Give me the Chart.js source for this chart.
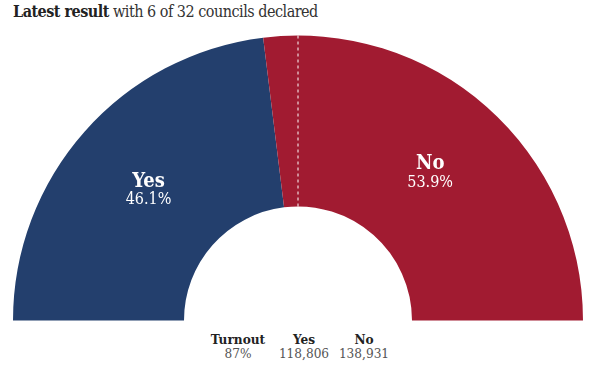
<!DOCTYPE html>
<html>
<head>
<meta charset="utf-8">
<script src="https://cdn.jsdelivr.net/npm/chart.js@4"></script>
<style>
  body { margin:0; background:#fff; width:600px; height:389px; overflow:hidden; font-family:"DejaVu Serif Condensed", "DejaVu Serif", serif; color:#333; }
  #title { position:absolute; left:13px; top:2px; font-size:16px; color:#333; white-space:nowrap; letter-spacing:-0.5px; }
  #title b { color:#222; }
  #wrap { position:absolute; left:13px; top:35px; width:570px; height:286px; }
  .stat { position:absolute; top:332px; text-align:center; font-size:13.5px; line-height:14px; color:#555; }
  .stat b { display:block; color:#222; font-size:13.5px; }
</style>
</head>
<body>
<div id="title"><b>Latest result</b> with 6 of 32 councils declared</div>
<div id="wrap"><canvas id="chart"></canvas></div>
<div class="stat" style="left:208px;width:60px"><b>Turnout</b><span id="turnout"></span></div>
<div class="stat" style="left:274px;width:60px"><b>Yes</b><span id="yesVotes"></span></div>
<div class="stat" style="left:334px;width:60px"><b>No</b><span id="noVotes"></span></div>
<script>
var labels = ["Yes", "No"];
var shares = [46.1, 53.9];
var votes = [118806, 138931];
var turnout = 87;
var colors = ["#233f6d", "#a11b31"];

document.getElementById("turnout").textContent = turnout + "%";
document.getElementById("yesVotes").textContent = votes[0].toLocaleString("en-GB");
document.getElementById("noVotes").textContent = votes[1].toLocaleString("en-GB");

// white dashed line at the 50% mark + slice labels
var overlay = {
    id: "overlay",
    afterDatasetsDraw: function(chart) {
        var ctx = chart.ctx;
        var meta = chart.getDatasetMeta(0);
        var arc = meta.data[0];
        ctx.save();
        ctx.strokeStyle = "#fff";
        ctx.lineWidth = 1;
        ctx.setLineDash([3, 3]);
        ctx.beginPath();
        ctx.moveTo(arc.x, arc.y - arc.innerRadius);
        ctx.lineTo(arc.x, arc.y - arc.outerRadius);
        ctx.stroke();
        ctx.setLineDash([]);

        ctx.fillStyle = "#fff";
        ctx.textAlign = "center";
        ctx.textBaseline = "middle";
        meta.data.forEach(function(el, i) {
            var p = el.tooltipPosition();
            ctx.font = "bold 20px 'DejaVu Serif Condensed', 'DejaVu Serif', serif";
            ctx.fillText(labels[i], p.x, p.y - 7);
            ctx.font = "16px 'DejaVu Serif Condensed', 'DejaVu Serif', serif";
            ctx.fillText(shares[i].toFixed(1) + "%", p.x, p.y + 12);
        });
        ctx.restore();
    }
};

new Chart(document.getElementById("chart"), {
    type: "doughnut",
    data: {
        labels: labels,
        datasets: [{
            data: shares,
            backgroundColor: colors,
            borderWidth: 0
        }]
    },
    options: {
        responsive: true,
        maintainAspectRatio: false,
        animation: false,
        rotation: -90,
        circumference: 180,
        cutout: "40%",
        layout: { padding: 0 },
        plugins: {
            legend: { display: false },
            tooltip: { enabled: false }
        }
    },
    plugins: [overlay]
});
</script>
</body>
</html>
